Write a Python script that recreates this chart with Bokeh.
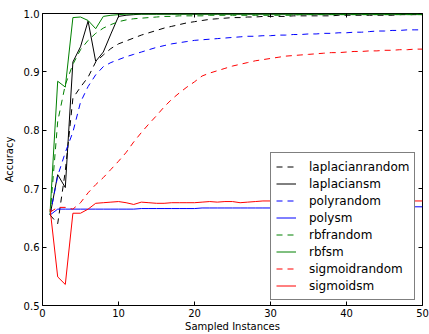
from bokeh.plotting import figure
from bokeh.models import Legend, LegendItem, LinearAxis, FixedTicker, Range1d
from bokeh.embed import file_html
from bokeh.resources import INLINE

x = list(range(1, 51))

laplacianrandom = [0.655, 0.640, 0.730, 0.855, 0.874, 0.891, 0.917, 0.929, 0.940, 0.948,
                   0.953, 0.958, 0.963, 0.967, 0.971, 0.975, 0.978, 0.981, 0.984, 0.986,
                   0.988, 0.990, 0.991, 0.992, 0.993, 0.993, 0.994, 0.994, 0.995, 0.995,
                   0.995, 0.995, 0.996, 0.996, 0.996, 0.996, 0.996, 0.996, 0.997, 0.997,
                   0.997, 0.997, 0.997, 0.997, 0.997, 0.997, 0.998, 0.998, 0.998, 0.998]
laplaciansm = [0.655, 0.724, 0.702, 0.917, 0.943, 0.987, 0.918, 0.934, 0.965, 0.995,
               0.997, 0.998, 0.999, 0.999, 0.999, 0.999, 0.999, 0.999, 0.999, 0.999,
               0.999, 0.999, 0.999, 0.999, 0.999, 0.999, 0.999, 0.999, 0.999, 0.999,
               0.999, 0.999, 0.999, 0.999, 0.999, 0.999, 0.999, 0.999, 0.999, 0.999,
               0.999, 0.999, 0.999, 0.999, 0.999, 0.999, 0.999, 0.999, 0.999, 0.999]
polyrandom = [0.655, 0.722, 0.762, 0.797, 0.848, 0.875, 0.895, 0.909, 0.916, 0.921,
              0.926, 0.930, 0.934, 0.938, 0.942, 0.945, 0.948, 0.950, 0.952, 0.954,
              0.955, 0.956, 0.957, 0.958, 0.959, 0.960, 0.961, 0.961, 0.962, 0.962,
              0.963, 0.963, 0.964, 0.964, 0.965, 0.965, 0.966, 0.966, 0.967, 0.967,
              0.968, 0.968, 0.969, 0.970, 0.970, 0.971, 0.971, 0.972, 0.972, 0.972]
polysm = [0.655, 0.665, 0.665, 0.665, 0.665, 0.665, 0.665, 0.665, 0.665, 0.665,
          0.665, 0.665, 0.666, 0.666, 0.666, 0.666, 0.666, 0.666, 0.666, 0.666,
          0.667, 0.667, 0.667, 0.667, 0.667, 0.667, 0.667, 0.667, 0.667, 0.667,
          0.667, 0.667, 0.668, 0.668, 0.668, 0.668, 0.668, 0.668, 0.668, 0.668,
          0.668, 0.668, 0.669, 0.669, 0.669, 0.669, 0.669, 0.669, 0.669, 0.669]
rbfrandom = [0.655, 0.815, 0.878, 0.913, 0.938, 0.954, 0.966, 0.975, 0.981, 0.986,
             0.989, 0.991, 0.992, 0.993, 0.994, 0.995, 0.995, 0.996, 0.996, 0.996,
             0.996, 0.997, 0.997, 0.997, 0.997, 0.997, 0.997, 0.997, 0.997, 0.997,
             0.997, 0.997, 0.997, 0.998, 0.998, 0.998, 0.998, 0.998, 0.998, 0.998,
             0.998, 0.998, 0.998, 0.998, 0.998, 0.998, 0.998, 0.998, 0.998, 0.998]
rbfsm = [0.660, 0.884, 0.874, 0.993, 0.994, 0.988, 0.974, 0.995, 0.997, 0.998,
         0.999, 0.999, 0.999, 0.999, 0.999, 0.999, 0.999, 0.999, 0.999, 0.999,
         0.999, 0.999, 0.999, 0.999, 0.999, 0.999, 0.999, 0.999, 0.999, 0.999,
         0.999, 0.999, 0.999, 0.999, 0.999, 0.999, 0.999, 0.999, 0.999, 0.999,
         0.999, 0.999, 0.999, 0.999, 0.999, 0.999, 0.999, 0.999, 0.999, 0.999]
sigmoidrandom = [0.660, 0.668, 0.668, 0.665, 0.676, 0.693, 0.707, 0.719, 0.733, 0.747,
                 0.762, 0.780, 0.796, 0.811, 0.825, 0.840, 0.853, 0.864, 0.874, 0.883,
                 0.893, 0.898, 0.902, 0.906, 0.910, 0.913, 0.916, 0.919, 0.921, 0.923,
                 0.925, 0.927, 0.928, 0.929, 0.930, 0.931, 0.932, 0.933, 0.933, 0.934,
                 0.935, 0.935, 0.936, 0.936, 0.937, 0.937, 0.938, 0.938, 0.939, 0.939]
sigmoidsm = [0.665, 0.549, 0.536, 0.658, 0.658, 0.665, 0.675, 0.676, 0.677, 0.678,
             0.676, 0.673, 0.677, 0.676, 0.675, 0.675, 0.676, 0.676, 0.676, 0.676,
             0.677, 0.678, 0.677, 0.678, 0.678, 0.676, 0.677, 0.678, 0.679, 0.679,
             0.679, 0.679, 0.679, 0.679, 0.679, 0.679, 0.679, 0.679, 0.679, 0.679,
             0.679, 0.679, 0.679, 0.679, 0.679, 0.679, 0.679, 0.679, 0.679, 0.679]

series_names = ["laplacianrandom", "laplaciansm", "polyrandom", "polysm",
                "rbfrandom", "rbfsm", "sigmoidrandom", "sigmoidsm"]
series_values = [laplacianrandom, laplaciansm, polyrandom, polysm,
                 rbfrandom, rbfsm, sigmoidrandom, sigmoidsm]
series_colors = ["#000000", "#000000", "#0000ff", "#0000ff",
                 "#008000", "#008000", "#ff0000", "#ff0000"]
series_dashed = [True, False, True, False, True, False, True, False]

x_ticks = [0, 10, 20, 30, 40, 50]
x_tick_labels = ["0", "10", "20", "30", "40", "50"]
y_ticks = [0.5, 0.6, 0.7, 0.8, 0.9, 1.0]
y_tick_labels = ["0.5", "0.6", "0.7", "0.8", "0.9", "1.0"]

FONT = "DejaVu Sans"

p = figure(width=429, height=334, output_backend="svg", toolbar_location=None,
           x_range=Range1d(0, 50), y_range=Range1d(0.5, 1.0),
           min_border_left=42, min_border_right=7, min_border_top=13, min_border_bottom=27,
           x_axis_label="Sampled Instances", y_axis_label="Accuracy")
p.background_fill_color = "white"
p.border_fill_color = "white"
p.outline_line_color = "black"
p.outline_line_width = 1
p.xgrid.visible = False
p.ygrid.visible = False


def style_axis(ax, ticks, labels, show_labels=True):
    ax.ticker = FixedTicker(ticks=ticks)
    if show_labels:
        ax.major_label_overrides = {t: l for t, l in zip(ticks, labels)}
    else:
        ax.major_label_overrides = {t: "" for t in ticks}
    ax.major_tick_in = 4
    ax.major_tick_out = 0
    ax.minor_tick_in = 0
    ax.minor_tick_out = 0
    ax.axis_line_color = None
    ax.major_tick_line_color = "black"
    ax.major_label_text_font = FONT
    ax.major_label_text_font_size = "10px"
    ax.major_label_text_color = "black"
    ax.axis_label_text_font = FONT
    ax.axis_label_text_font_size = "10px"
    ax.axis_label_text_font_style = "normal"
    ax.axis_label_text_color = "black"


style_axis(p.xaxis[0], x_ticks, x_tick_labels)
style_axis(p.yaxis[0], y_ticks, y_tick_labels)
p.xaxis[0].major_label_standoff = 3
p.xaxis[0].axis_label_standoff = 1
p.yaxis[0].major_label_standoff = 3
p.yaxis[0].axis_label_standoff = 6

top_axis = LinearAxis()
style_axis(top_axis, x_ticks, x_tick_labels, show_labels=False)
top_axis.major_label_standoff = 0
right_axis = LinearAxis()
style_axis(right_axis, y_ticks, y_tick_labels, show_labels=False)
right_axis.major_label_standoff = 0
p.add_layout(top_axis, "above")
p.add_layout(right_axis, "right")

items = []
for name, vals, col, dashed in zip(series_names, series_values, series_colors, series_dashed):
    r = p.line(x, vals, line_color=col, line_width=1,
               line_dash="6 5" if dashed else "solid")
    items.append(LegendItem(label=name, renderers=[r]))

legend = Legend(items=items, location=(228, 5))
legend.label_text_font = FONT
legend.label_text_font_size = "12px"
legend.label_text_color = "black"
legend.border_line_color = "black"
legend.border_line_width = 1
legend.background_fill_color = "white"
legend.background_fill_alpha = 1
legend.padding = 5
legend.spacing = 0
legend.margin = 0
legend.label_height = 17
legend.glyph_height = 17
legend.glyph_width = 20
legend.label_standoff = 13
p.add_layout(legend)

open("out.html", "w").write(file_html(p, INLINE))
